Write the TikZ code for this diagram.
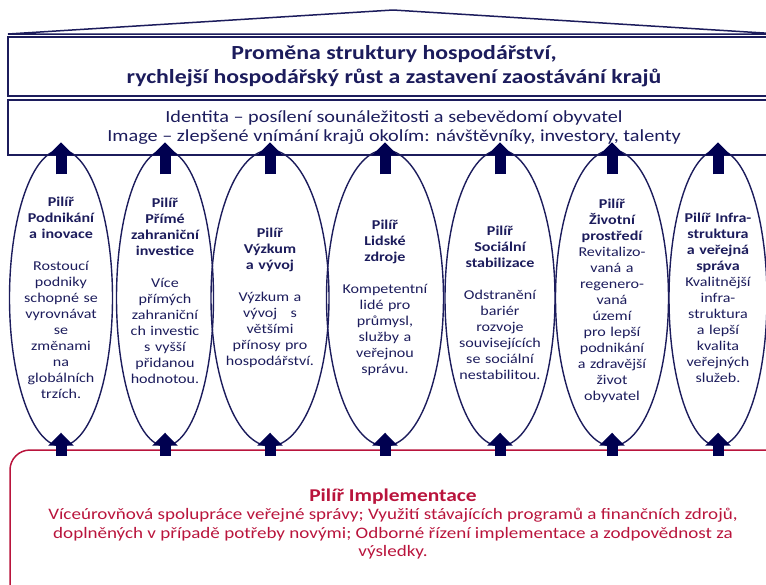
\documentclass[tikz,border=0pt]{standalone}
\usepackage{fontspec}
\setmainfont{Carlito}[FakeStretch=1.19]
\definecolor{NavyColor}{RGB}{28,28,92}
\definecolor{ArrowColor}{RGB}{0,0,80}
\definecolor{ImplColor}{RGB}{185,20,60}
\usetikzlibrary{shapes.geometric, arrows.meta}
\tikzstyle{goalbox} = [draw=NavyColor, line width=1.6pt, text=NavyColor, align=center, minimum width=772pt, inner sep=0pt]
\tikzstyle{pillar} = [draw=NavyColor, line width=1.4pt, ellipse, inner sep=0pt, minimum height=296pt]
\tikzstyle{pillartext} = [text=NavyColor, align=center, text width=116pt, inner sep=0pt, font=\fontsize{13.5}{16}\selectfont]
\tikzstyle{uparrow} = [ArrowColor, line width=11pt, -{Triangle[width=25pt, length=13pt]}]

\begin{document}
\begin{tikzpicture}[x=1pt, y=-1pt]
            \useasboundingbox (0,0) rectangle (766,584);
            \clip (0,0) rectangle (766,584);

            % Roof
            \draw[NavyColor, line width=1.5pt] (8,34) -- (393,10) -- (780,34) -- cycle;

            % Goal and identity
            \node[goalbox, minimum height=59pt, font=\bfseries\fontsize{20}{24}\selectfont] (goal) at (394,66.5) {Proměna struktury hospodářství,\\rychlejší hospodářský růst a zastavení zaostávání krajů};
            \node[goalbox, minimum height=55pt, font=\fontsize{17}{19}\selectfont] (identity) at (394,127.5) {Identita – posílení sounáležitosti a sebevědomí obyvatel\\Image – zlepšené vnímání krajů okolím: návštěvníky, investory, talenty};

            % Pillars
            \node[pillar, minimum width=103pt] (p1) at (61,298) {};
            \node[pillartext] (t1) at (p1.center) {{\bfseries Pilíř\\Podnikání\\a inovace}\\[16pt]Rostoucí\\podniky\\schopné se\\vyrovnávat\\se\\změnami\\na\\globálních\\trzích.};

            \node[pillar, minimum width=97pt] (p2) at (165,298) {};
            \node[pillartext] (t2) at ([yshift=7pt]p2.center) {{\bfseries Pilíř\\Přímé\\zahraniční\\investice}\\[16pt]Více\\přímých\\zahraniční\\ch investic\\s vyšší\\přidanou\\hodnotou.};

            \node[pillar, minimum width=118pt] (p3) at (270,298) {};
            \node[pillartext] (t3) at (p3.center) {{\bfseries Pilíř\\Výzkum\\a vývoj}\\[16pt]Výzkum a\\vývoj\quad s\\většími\\přínosy pro\\hospodářství.};

            \node[pillar, minimum width=117pt] (p4) at (385,298) {};
            \node[pillartext] (t4) at (p4.center) {{\bfseries Pilíř\\Lidské\\zdroje}\\[16pt]Kompetentní\\lidé pro\\průmysl,\\služby a\\veřejnou\\správu.};

            \node[pillar, minimum width=110pt] (p5) at (500,298) {};
            \node[pillartext] (t5) at ([yshift=-5pt]p5.center) {{\bfseries Pilíř\\Sociální\\stabilizace}\\[16pt]Odstranění\\bariér\\rozvoje\\souvisejících\\se sociální\\nestabilitou.};

            \node[pillar, minimum width=113pt] (p6) at (612,298) {};
            \node[pillartext] (t6) at ([yshift=-3pt]p6.center) {{\bfseries Pilíř\\Životní\\prostředí}\\Revitalizo-\\vaná a\\regenero-\\vaná\\území\\pro lepší\\podnikání\\a zdravější\\život\\obyvatel};

            \node[pillar, minimum width=98pt] (p7) at (718,298) {};
            \node[pillartext] (t7) at (p7.center) {{\bfseries Pilíř Infra-\\struktura\\a veřejná\\správa}\\Kvalitnější\\infra-\\struktura\\a lepší\\kvalita\\veřejných\\služeb.};

            % Implementation
            \draw[ImplColor, line width=1.5pt, rounded corners=20pt] (10,450) rectangle (790,620);
            \node[text=ImplColor, align=center, font=\fontsize{16}{18.5}\selectfont] (impl) at (393,524) {{\bfseries\fontsize{18}{20}\selectfont Pilíř Implementace}\\Víceúrovňová spolupráce veřejné správy; Využití stávajících programů a finančních zdrojů,\\doplněných v případě potřeby novými; Odborné řízení implementace a zodpovědnost za\\výsledky.};

            % Arrows
            \foreach \p in {p1,p2,p3,p4,p5,p6,p7} {
                \draw[uparrow] ([yshift=-25pt]\p.north) -- ([yshift=7pt]\p.north);
                \draw[uparrow] ([yshift=-9pt]\p.south) -- ([yshift=14pt]\p.south);
            }
        \end{tikzpicture}
\end{document}
